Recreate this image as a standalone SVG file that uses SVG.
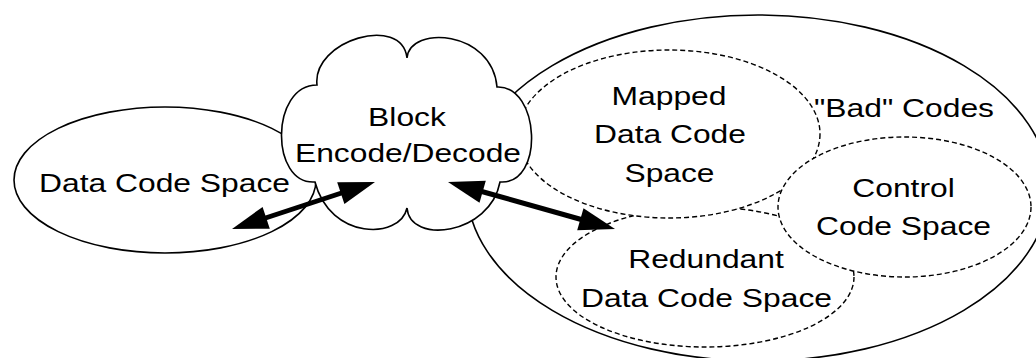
<svg xmlns="http://www.w3.org/2000/svg" width="1036" height="358" viewBox="0 0 1036 358">
<style>
.solid{fill:#fff;stroke:#000;stroke-width:1.6}
.dash{fill:#fff;stroke:#000;stroke-width:1.4;stroke-dasharray:5 3}
.lbl{font-family:"Liberation Sans",Arial,sans-serif;font-size:26.5px;fill:#000;text-anchor:middle}
.shaft{stroke:#000;stroke-width:5;fill:none}
.head{fill:#000;stroke:none}
</style>
<rect width="1036" height="358" fill="#fff"/>
<g id="data-code-space">
<ellipse class="solid" cx="165" cy="180" rx="151" ry="73"/>
<text class="lbl" x="164.5" y="192" textLength="251" lengthAdjust="spacingAndGlyphs">Data Code Space</text>
</g>
<g id="bad-codes">
<ellipse class="solid" cx="758" cy="188" rx="291" ry="173"/>
<text class="lbl" x="904" y="117" textLength="180" lengthAdjust="spacingAndGlyphs">"Bad" Codes</text>
</g>
<g id="redundant">
<ellipse class="dash" cx="705" cy="277" rx="149" ry="70"/>
<text class="lbl" x="706" y="268" textLength="155.6" lengthAdjust="spacingAndGlyphs">Redundant</text>
<text class="lbl" x="706.5" y="307" textLength="251" lengthAdjust="spacingAndGlyphs">Data Code Space</text>
</g>
<g id="mapped">
<ellipse class="dash" cx="669" cy="134" rx="151" ry="84"/>
<text class="lbl" x="669" y="105" textLength="115" lengthAdjust="spacingAndGlyphs">Mapped</text>
<text class="lbl" x="670" y="143" textLength="152" lengthAdjust="spacingAndGlyphs">Data Code</text>
<text class="lbl" x="669.5" y="182" textLength="90" lengthAdjust="spacingAndGlyphs">Space</text>
</g>
<g id="control">
<ellipse class="dash" cx="904.5" cy="207" rx="126.5" ry="70"/>
<text class="lbl" x="903.5" y="197" textLength="102.5" lengthAdjust="spacingAndGlyphs">Control</text>
<text class="lbl" x="903.5" y="235" textLength="175" lengthAdjust="spacingAndGlyphs">Code Space</text>
</g>
<g id="block">
<path class="solid" stroke-linejoin="miter" d="M317,85 C312,40 402,14 407,58 C410,25 492,30 497,87 C540,85 545,185 500,182 C490,235 410,245 407,208 C400,240 330,240 315,182 C270,185 270,85 317,85 Z"/>
<text class="lbl" x="407" y="126" textLength="77.8" lengthAdjust="spacingAndGlyphs">Block</text>
<text class="lbl" x="408" y="162" textLength="226" lengthAdjust="spacingAndGlyphs">Encode/Decode</text>
</g>
<g id="connectors">
<line class="shaft" x1="264" y1="218.5" x2="343" y2="192.5"/>
<polygon class="head" points="232,229 269.8,228.7 262.6,206.9"/>
<polygon class="head" points="375,182 344.4,204.1 337.2,182.3"/>
<line class="shaft" x1="480" y1="191" x2="583" y2="220"/>
<polygon class="head" points="448,182 479.5,202.8 485.8,180.7"/>
<polygon class="head" points="615,229 577.2,230.3 583.5,208.2"/>
</g>
</svg>
